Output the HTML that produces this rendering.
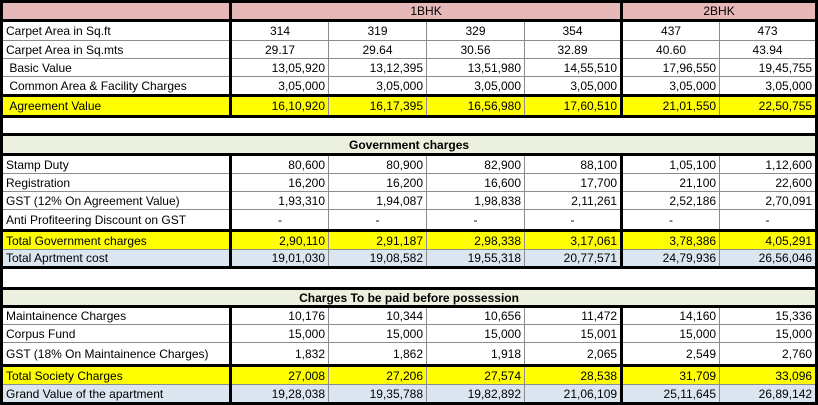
<!DOCTYPE html>
<html><head><meta charset="utf-8"><style>
html,body{margin:0;padding:0;background:#fff;}
body{width:818px;height:404px;overflow:hidden;font-family:"Liberation Sans",sans-serif;font-size:12px;color:#000;}
table{border-collapse:collapse;table-layout:fixed;width:815px;}
td{border:1px solid #8c8c8c;padding:0 3px;white-space:nowrap;overflow:hidden;line-height:14px;}
td.l{border-left:3px solid #000;border-right:3px solid #000;text-align:left;}
td.c{text-align:center;}
td.r{text-align:right;}
td.g{border-right:3px solid #000;}
td:last-child{border-right:3px solid #000;}
tr.tt td{border-top:3px solid #000;}
tr.tb td{border-bottom:3px solid #000;}
.pink td{background:#e6b8b7;}
.yel td{background:#ffff00;}
.blue td{background:#dce6f1;}
.sec td{background:#ebf1de;font-weight:bold;text-align:center;border-left:3px solid #000;border-right:3px solid #000;}
.blank td{border-left:3px solid #000;border-right:3px solid #000;}
</style></head><body>
<table>
<colgroup><col style="width:229px"><col style="width:98px"><col style="width:98px"><col style="width:98px"><col style="width:97px"><col style="width:98px"><col style="width:97px"></colgroup>
<tr class="pink tt tb" style="height:19px"><td class="l"></td><td colspan="4" class="c g">1BHK</td><td colspan="2" class="c">2BHK</td></tr>
<tr style="height:20px"><td class="l">Carpet Area in Sq.ft</td><td class="c">314</td><td class="c">319</td><td class="c">329</td><td class="c g">354</td><td class="c">437</td><td class="c">473</td></tr>
<tr style="height:18px"><td class="l">Carpet Area in Sq.mts</td><td class="c">29.17</td><td class="c">29.64</td><td class="c">30.56</td><td class="c g">32.89</td><td class="c">40.60</td><td class="c">43.94</td></tr>
<tr style="height:18px"><td class="l">&nbsp;Basic Value</td><td class="r">13,05,920</td><td class="r">13,12,395</td><td class="r">13,51,980</td><td class="r g">14,55,510</td><td class="r">17,96,550</td><td class="r">19,45,755</td></tr>
<tr style="height:19px"><td class="l">&nbsp;Common Area &amp; Facility Charges</td><td class="r">3,05,000</td><td class="r">3,05,000</td><td class="r">3,05,000</td><td class="r g">3,05,000</td><td class="r">3,05,000</td><td class="r">3,05,000</td></tr>
<tr class="yel tt tb" style="height:21px"><td class="l">&nbsp;Agreement Value</td><td class="r">16,10,920</td><td class="r">16,17,395</td><td class="r">16,56,980</td><td class="r g">17,60,510</td><td class="r">21,01,550</td><td class="r">22,50,755</td></tr>
<tr class="blank" style="height:18px"><td colspan="7"></td></tr>
<tr class="sec tt tb" style="height:20px"><td colspan="7">Government charges</td></tr>
<tr style="height:19px"><td class="l">Stamp Duty</td><td class="r">80,600</td><td class="r">80,900</td><td class="r">82,900</td><td class="r g">88,100</td><td class="r">1,05,100</td><td class="r">1,12,600</td></tr>
<tr style="height:18px"><td class="l">Registration</td><td class="r">16,200</td><td class="r">16,200</td><td class="r">16,600</td><td class="r g">17,700</td><td class="r">21,100</td><td class="r">22,600</td></tr>
<tr style="height:18px"><td class="l">GST (12% On Agreement Value)</td><td class="r">1,93,310</td><td class="r">1,94,087</td><td class="r">1,98,838</td><td class="r g">2,11,261</td><td class="r">2,52,186</td><td class="r">2,70,091</td></tr>
<tr style="height:21px"><td class="l">Anti Profiteering Discount on GST</td><td class="c">-</td><td class="c">-</td><td class="c">-</td><td class="c g">-</td><td class="c">-</td><td class="c">-</td></tr>
<tr class="yel tt" style="height:19px"><td class="l">Total Government charges</td><td class="r">2,90,110</td><td class="r">2,91,187</td><td class="r">2,98,338</td><td class="r g">3,17,061</td><td class="r">3,78,386</td><td class="r">4,05,291</td></tr>
<tr class="blue tb" style="height:18px"><td class="l">Total Aprtment cost</td><td class="r">19,01,030</td><td class="r">19,08,582</td><td class="r">19,55,318</td><td class="r g">20,77,571</td><td class="r">24,79,936</td><td class="r">26,56,046</td></tr>
<tr class="blank" style="height:21px"><td colspan="7"></td></tr>
<tr class="sec tt tb" style="height:18px"><td colspan="7">Charges To be paid before possession</td></tr>
<tr style="height:18px"><td class="l">Maintainence Charges</td><td class="r">10,176</td><td class="r">10,344</td><td class="r">10,656</td><td class="r g">11,472</td><td class="r">14,160</td><td class="r">15,336</td></tr>
<tr style="height:18px"><td class="l">Corpus Fund</td><td class="r">15,000</td><td class="r">15,000</td><td class="r">15,000</td><td class="r g">15,001</td><td class="r">15,000</td><td class="r">15,000</td></tr>
<tr style="height:23px"><td class="l">GST (18% On Maintainence Charges)</td><td class="r">1,832</td><td class="r">1,862</td><td class="r">1,918</td><td class="r g">2,065</td><td class="r">2,549</td><td class="r">2,760</td></tr>
<tr class="yel tt" style="height:19px"><td class="l">Total Society Charges</td><td class="r">27,008</td><td class="r">27,206</td><td class="r">27,574</td><td class="r g">28,538</td><td class="r">31,709</td><td class="r">33,096</td></tr>
<tr class="blue tb" style="height:19px"><td class="l">Grand Value of the apartment</td><td class="r">19,28,038</td><td class="r">19,35,788</td><td class="r">19,82,892</td><td class="r g">21,06,109</td><td class="r">25,11,645</td><td class="r">26,89,142</td></tr>
</table>
</body></html>
